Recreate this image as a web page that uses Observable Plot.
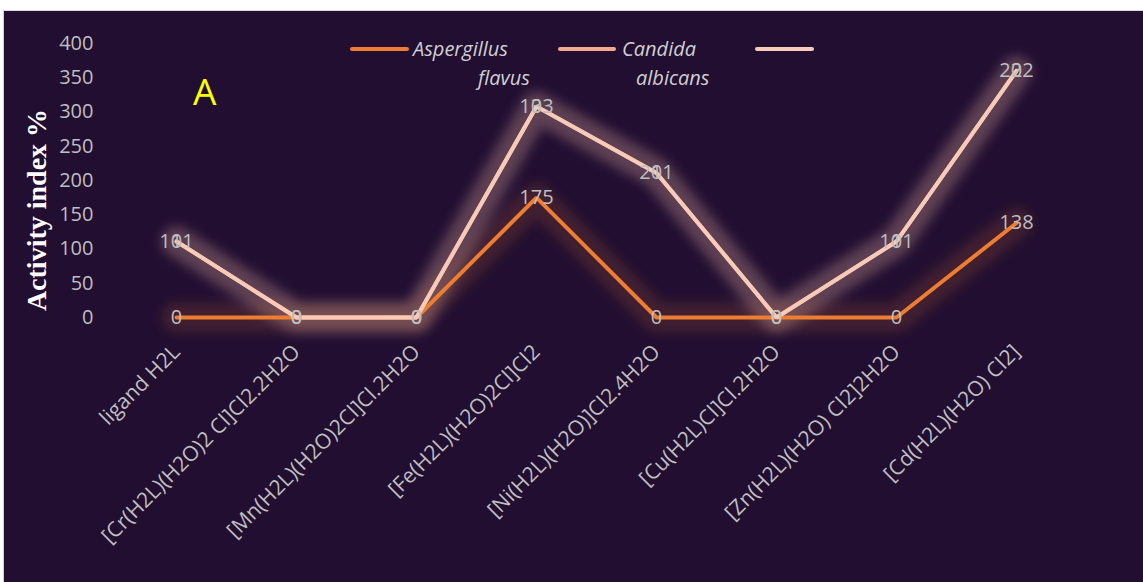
<!DOCTYPE html>
<html>
<head>
<meta charset="utf-8">
<script src="https://cdn.jsdelivr.net/npm/d3@7"></script>
<script src="https://cdn.jsdelivr.net/npm/@observablehq/plot@0.6"></script>
<style>
  html, body { margin: 0; padding: 0; background: #ffffff; }
  #frame { position: absolute; left: 3px; top: 10px; border-top: 1px solid #d9d9d9; border-left: 1px solid #d0d0d0; width: 1139px; height: 571px; background: #210e31; overflow: hidden; }
  #frame svg { display: block; }
</style>
</head>
<body>
<div id="frame"></div>
<script>
const categories = [
  "ligand H2L",
  "[Cr(H2L)(H2O)2 Cl]Cl2.2H2O",
  "[Mn(H2L)(H2O)2Cl]Cl.2H2O",
  "[Fe(H2L)(H2O)2Cl]Cl2",
  "[Ni(H2L)(H2O)]Cl2.4H2O",
  "[Cu(H2L)Cl]Cl.2H2O",
  "[Zn(H2L)(H2O) Cl2]2H2O",
  "[Cd(H2L)(H2O) Cl2]"
];
const seriesNames = ["Aspergillus flavus", "Candida albicans", ""];
const aspergillus = [0, 0, 0, 175, 0, 0, 0, 138];
const candida = [111, 0, 0, 133, 211, 0, 111, 222];
const series3 = [0, 0, 0, 0, 0, 0, 0, 0];
const seriesColors = ["#ed7d31", "#f4a98c", "#f8cbb9"];
const yTicks = [0, 50, 100, 150, 200, 250, 300, 350, 400];

const seriesValues = [aspergillus, candida, series3];
const rows = [];
seriesNames.forEach((s, si) => {
  categories.forEach((c, ci) => rows.push({cat: c, series: s, value: seriesValues[si][ci]}));
});

const W = 1139, H = 571;
const textGrey = "#bfbfbf";
const font = "'Open Sans', 'Noto Sans', sans-serif";

const chart = Plot.plot({
  width: W,
  height: H,
  marginLeft: 112,
  marginRight: 67,
  marginTop: 32,
  marginBottom: 265,
  style: {background: "#210e31", color: textGrey, fontFamily: font, fontSize: "20px"},
  x: {type: "point", domain: categories, padding: 0.5, axis: null},
  y: {domain: [0, 400], axis: null},
  color: {domain: seriesNames, range: seriesColors},
  marks: [
    Plot.axisY({ticks: yTicks, tickSize: 0, tickPadding: 23, label: null, fontSize: 20}),
    Plot.lineY(rows, Plot.stackY2({x: "cat", y: "value", z: "series", stroke: "series", strokeWidth: 30, strokeOpacity: 0.16})),
    Plot.lineY(rows, Plot.stackY2({x: "cat", y: "value", z: "series", stroke: "series", strokeWidth: 4, strokeLinejoin: "miter", strokeLinecap: "round"})),
    Plot.text(rows, Plot.stackY2({x: "cat", y: "value", z: "series", text: d => String(d.value), fill: textGrey, fontSize: 20})),
    Plot.text(categories, {x: d => d, frameAnchor: "bottom", rotate: -45, textAnchor: "end", lineAnchor: "middle", dy: 31, fill: textGrey, fontSize: 21})
  ]
});

document.getElementById("frame").appendChild(chart);

const svg = d3.select(chart);
const defs = svg.insert("defs", ":first-child");
defs.append("filter").attr("id", "softglow")
  .attr("x", "-20%").attr("y", "-40%").attr("width", "140%").attr("height", "180%")
  .append("feGaussianBlur").attr("stdDeviation", 6);
// first line group = glow layer
const lineGroups = svg.selectAll('g[aria-label="line"]');
d3.select(lineGroups.nodes()[0]).attr("filter", "url(#softglow)");

// Legend
const legend = svg.append("g").attr("font-family", font).attr("font-size", 20)
  .attr("font-style", "italic").attr("fill", "#d0d0d0").attr("text-anchor", "start");
const legendItems = [
  {x1: 348, x2: 403, lines: [{t: "Aspergillus", x: 409, y: 45}, {t: "flavus", x: 474, y: 74}]},
  {x1: 556, x2: 610, lines: [{t: "Candida", x: 618, y: 45}, {t: "albicans", x: 632, y: 74}]},
  {x1: 753, x2: 808, lines: []}
];
legendItems.forEach((it, i) => {
  legend.append("line").attr("x1", it.x1).attr("x2", it.x2).attr("y1", 38).attr("y2", 38)
    .attr("stroke", seriesColors[i]).attr("stroke-width", 4).attr("stroke-linecap", "round");
  it.lines.forEach(l => legend.append("text").attr("x", l.x).attr("y", l.y).text(l.t));
});

// Panel letter
svg.append("text").attr("x", 189).attr("y", 94).attr("text-anchor", "start")
  .attr("font-family", font).attr("font-size", 37).attr("fill", "#ffff00").text("A");

// Y title
svg.append("text").attr("transform", "translate(32,199) rotate(-90)")
  .attr("text-anchor", "middle").attr("dominant-baseline", "central")
  .attr("font-family", "'Liberation Serif', 'Times New Roman', serif").attr("font-weight", "bold")
  .attr("font-size", 28).attr("fill", "#ffffff").text("Activity index %");
</script>
</body>
</html>
